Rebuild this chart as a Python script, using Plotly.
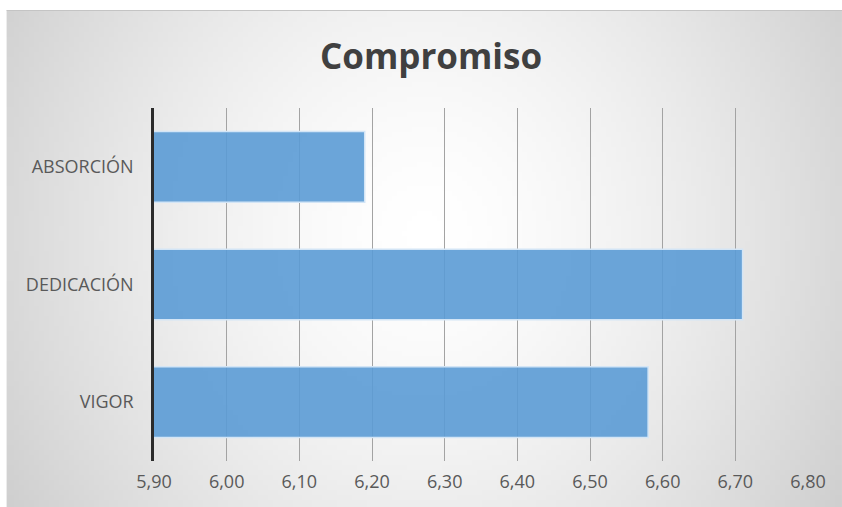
import base64
import struct
import zlib

import plotly.graph_objects as go

# ---- data ----
categories = ["VIGOR", "DEDICACIÓN", "ABSORCIÓN"]
values = [6.58, 6.71, 6.19]
tick_values = [5.9, 6.0, 6.1, 6.2, 6.3, 6.4, 6.5, 6.6, 6.7, 6.8]
title_text = "Compromiso"


def gradient_png(w, h):
    rows = []
    for j in range(h):
        v = j / (h - 1)
        row = bytearray([0])
        for i in range(w):
            u = i / (w - 1)
            dx = (u - 0.5) / 0.5
            dy = (v - 0.45) / 0.55 * 0.6
            r = min(1.0, (dx * dx + dy * dy) ** 0.5 / 1.166)
            val = int(round(255 - 48 * r ** 1.5))
            row.append(val)
        rows.append(bytes(row))
    raw = b"".join(rows)

    def chunk(tag, data):
        c = struct.pack(">I", len(data)) + tag + data
        return c + struct.pack(">I", zlib.crc32(tag + data) & 0xFFFFFFFF)

    png = b"\x89PNG\r\n\x1a\n"
    png += chunk(b"IHDR", struct.pack(">IIBBBBB", w, h, 8, 0, 0, 0, 0))
    png += chunk(b"IDAT", zlib.compress(raw, 9))
    png += chunk(b"IEND", b"")
    return "data:image/png;base64," + base64.b64encode(png).decode()


# plot area geometry in pixels
W, H = 842, 507
L, R, T, B = 153.5, 34, 108, 46
pw = W - L - R
ph = H - T - B

def px_to_paper_x(px):
    return (px - L) / pw

def py_to_paper_y(py):
    return (H - B - py) / ph

fig = go.Figure()
fig.add_trace(go.Bar(
    y=categories,
    x=values,
    orientation="h",
    marker=dict(color="rgba(91,155,213,0.9)",
                line=dict(color="#d3e5f6", width=1.5)),
    hoverinfo="x+y",
))

bg = gradient_png(168, 100)
fig.add_layout_image(dict(
    source=bg, xref="paper", yref="paper",
    x=px_to_paper_x(6), y=py_to_paper_y(10),
    sizex=px_to_paper_x(842) - px_to_paper_x(6),
    sizey=py_to_paper_y(10) - py_to_paper_y(507),
    sizing="stretch", xanchor="left", yanchor="top", layer="below",
))
fig.add_shape(type="line", xref="paper", yref="paper",
              x0=px_to_paper_x(6), x1=px_to_paper_x(842),
              y0=py_to_paper_y(10.5), y1=py_to_paper_y(10.5),
              line=dict(color="#c4c4c4", width=1))

fig.update_layout(
    width=W, height=H,
    margin=dict(l=L, r=R, t=T, b=B, pad=0),
    paper_bgcolor="white",
    plot_bgcolor="rgba(0,0,0,0)",
    separators=",.",
    bargap=0.4,
    showlegend=False,
    font=dict(family="Open Sans, sans-serif", color="#595959", size=18),
    title=dict(text="<b>" + title_text + "</b>", x=431 / W, xref="container",
               xanchor="center", y=1 - 57 / H, yref="container", yanchor="middle",
               font=dict(size=35, color="#404040", family="Open Sans, sans-serif")),
    xaxis=dict(range=[5.9, 6.8], tickvals=tick_values, tickformat=".2f",
               showgrid=True, gridcolor="#a3a3a3", gridwidth=1,
               zeroline=False, showline=False, ticks="",
               ticklabelstandoff=8, fixedrange=True),
    yaxis=dict(categoryorder="array", categoryarray=categories,
               range=[-0.5, 2.5], showgrid=False, zeroline=False,
               showline=True, linecolor="#2b2b2b", linewidth=2.5,
               ticks="", ticklabelstandoff=14, fixedrange=True),
)

fig.write_html("out.html")
